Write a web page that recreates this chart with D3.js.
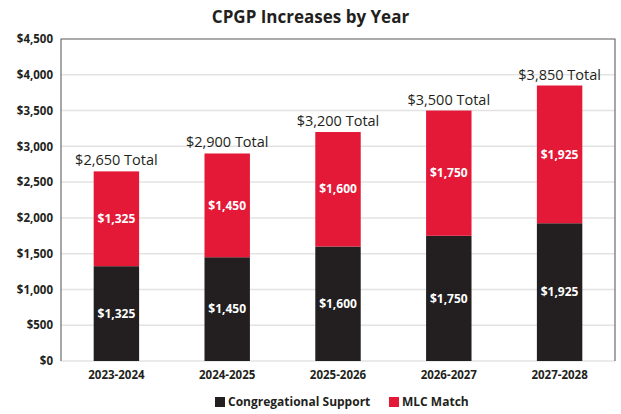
<!DOCTYPE html>
<html>
<head>
<meta charset="utf-8">
<script src="https://cdn.jsdelivr.net/npm/d3@7"></script>
<style>
  body { margin: 0; background: #fff; }
  svg { display: block; }
</style>
</head>
<body>
<div id="chart"></div>
<script>
// data
const years = ["2023-2024", "2024-2025", "2025-2026", "2026-2027", "2027-2028"];
const congregational = [1325, 1450, 1600, 1750, 1925];
const mlcMatch = [1325, 1450, 1600, 1750, 1925];
const seriesNames = ["Congregational Support", "MLC Match"];
const yTicks = [0, 500, 1000, 1500, 2000, 2500, 3000, 3500, 4000, 4500];

const W = 621, H = 414;
const margin = {top: 39, right: 6, bottom: 53, left: 61};
const width = W - margin.left - margin.right;
const height = H - margin.top - margin.bottom;
const colors = {"Congregational Support": "#231f20", "MLC Match": "#e31937"};

const rows = years.map(function(y, i) {
    return {year: y, "Congregational Support": congregational[i], "MLC Match": mlcMatch[i]};
});
const stacked = d3.stack().keys(seriesNames)(rows);

const svg = d3.select("#chart").append("svg")
    .attr("width", W).attr("height", H);

svg.append("text")
    .attr("x", W / 2).attr("y", 23)
    .attr("text-anchor", "middle")
    .style("font-family", "'Open Sans', sans-serif")
    .style("font-weight", "700")
    .style("font-size", "17px")
    .attr("fill", "#231f20")
    .text("CPGP Increases by Year");

const g = svg.append("g")
    .attr("transform", "translate(" + margin.left + "," + margin.top + ")");

const x = d3.scaleBand().domain(years).range([0, width]).paddingInner(0.59).paddingOuter(0.295);
const y = d3.scaleLinear().domain([0, 4500]).range([height, 0]);

// gridlines
g.append("g").selectAll("line").data(yTicks).join("line")
    .attr("x1", 0).attr("x2", width)
    .attr("y1", function(d) { return y(d); })
    .attr("y2", function(d) { return y(d); })
    .attr("stroke", "#e3e3e3").attr("stroke-width", 1.5);

// frame: left, top, right
g.append("path")
    .attr("d", "M0," + height + "V0H" + width + "V" + height)
    .attr("fill", "none").attr("stroke", "#6d6d6d").attr("stroke-width", 1.2);

// y axis labels
const yAxis = g.append("g")
    .call(d3.axisLeft(y).tickValues(yTicks).tickSize(0).tickPadding(8)
        .tickFormat(function(d) { return "$" + d3.format(",")(d); }));
yAxis.select(".domain").remove();
yAxis.selectAll("text")
    .style("font-family", "'Open Sans', sans-serif")
    .style("font-weight", "700")
    .style("font-size", "11.5px")
    .attr("fill", "#231f20");

// x axis labels
const xAxis = g.append("g")
    .attr("transform", "translate(0," + height + ")")
    .call(d3.axisBottom(x).tickSize(0).tickPadding(10));
xAxis.select(".domain").remove();
xAxis.selectAll("text")
    .style("font-family", "'Open Sans', sans-serif")
    .style("font-weight", "700")
    .style("font-size", "11.5px")
    .attr("fill", "#231f20");

// bars
const layer = g.selectAll(".layer").data(stacked).join("g")
    .attr("class", "layer")
    .attr("fill", function(d) { return colors[d.key]; });

layer.selectAll("rect").data(function(d) { return d; }).join("rect")
    .attr("x", function(d) { return x(d.data.year); })
    .attr("y", function(d) { return y(d[1]); })
    .attr("width", x.bandwidth())
    .attr("height", function(d) { return y(d[0]) - y(d[1]); });

layer.selectAll("text").data(function(d) { return d; }).join("text")
    .attr("x", function(d) { return x(d.data.year) + x.bandwidth() / 2; })
    .attr("y", function(d) { return (y(d[0]) + y(d[1])) / 2; })
    .attr("dy", "0.35em")
    .attr("text-anchor", "middle")
    .attr("fill", "#fff")
    .style("font-family", "'Open Sans', sans-serif")
    .style("font-weight", "700")
    .style("font-size", "12px")
    .text(function(d) { return "$" + d3.format(",")(d[1] - d[0]); });

// totals
g.selectAll(".total").data(rows).join("text")
    .attr("class", "total")
    .attr("x", function(d) { return x(d.year) + x.bandwidth() / 2; })
    .attr("y", function(d) { return y(d["Congregational Support"] + d["MLC Match"]) - 6; })
    .attr("text-anchor", "middle")
    .attr("fill", "#231f20")
    .style("font-family", "'Open Sans', sans-serif")
    .style("font-weight", "500")
    .style("font-size", "14.5px")
    .text(function(d) { return "$" + d3.format(",")(d["Congregational Support"] + d["MLC Match"]) + " Total"; });

// legend
const legend = svg.append("g").attr("transform", "translate(0,406)");
const legendX = [215, 389];
const items = legend.selectAll("g").data(seriesNames).join("g")
    .attr("transform", function(d, i) { return "translate(" + legendX[i] + ",0)"; });
items.append("rect")
    .attr("y", -9).attr("width", 10).attr("height", 10)
    .attr("fill", function(d) { return colors[d]; });
items.append("text")
    .attr("x", 13)
    .attr("fill", "#231f20")
    .style("font-family", "'Open Sans', sans-serif")
    .style("font-weight", "700")
    .style("font-size", "12px")
    .text(function(d) { return d; });
</script>
</body>
</html>
